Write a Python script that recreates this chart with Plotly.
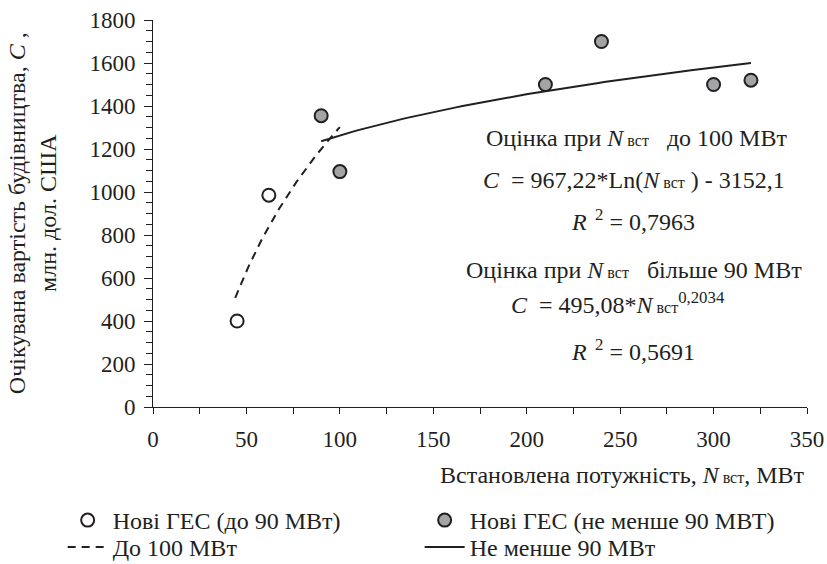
import numpy as np
import plotly.graph_objects as go

# ---- data ----
small_x = [45, 62]            # Нові ГЕС (до 90 МВт)
small_y = [400, 985]
large_x = [90, 100, 210, 240, 300, 320]   # Нові ГЕС (не менше 90 МВт)
large_y = [1355, 1095, 1500, 1700, 1500, 1520]

# trendline coefficients shown on the chart
log_a, log_b = 967.22, -3152.1       # C = a*Ln(N) + b, for N up to 100
pow_a, pow_b = 495.08, 0.2034        # C = a*N^b, for N above 90
log_range = [44, 100]
pow_range = [90, 320]

x_ticks = [0, 50, 100, 150, 200, 250, 300, 350]
y_ticks = [0, 200, 400, 600, 800, 1000, 1200, 1400, 1600, 1800]

FONT = "Liberation Serif"
INK = "#231f20"

log_x = np.linspace(log_range[0], log_range[1], 60)
log_y = log_a * np.log(log_x) + log_b
pow_x = np.linspace(pow_range[0], pow_range[1], 80)
pow_y = pow_a * pow_x ** pow_b

fig = go.Figure()
fig.add_trace(go.Scatter(
    x=small_x, y=small_y, mode="markers", name="Нові ГЕС (до 90 МВт)",
    legend="legend",
    marker=dict(symbol="circle", size=13, color="white",
                line=dict(color=INK, width=2))))
fig.add_trace(go.Scatter(
    x=large_x, y=large_y, mode="markers", name="Нові ГЕС (не менше 90 МВТ)",
    legend="legend",
    marker=dict(symbol="circle", size=13, color="#a3a4a6",
                line=dict(color=INK, width=2))))
fig.add_trace(go.Scatter(
    x=log_x, y=log_y, mode="lines", name="До 100 МВт", legend="legend2",
    line=dict(color=INK, width=2, dash="8px,6px")))
fig.add_trace(go.Scatter(
    x=pow_x, y=pow_y, mode="lines", name="Не менше 90 МВт", legend="legend2",
    line=dict(color=INK, width=2)))

sub = "<span style='font-size:16px'>\u00a0вст</span>"
lines = [
    (258.5, 1253, f"Оцінка при <i>N</i>{sub}\u00a0\u00a0\u00a0до 100 МВт"),
    (257.5, 1057, f"<i>C</i> \u00a0= 967,22*Ln(<i>N</i>{sub}\u00a0) - 3152,1"),
    (257.0, 871, "<i>R</i><sup>\u00a0\u00a02</sup>\u00a0= 0,7963"),
    (257.5, 638, f"Оцінка при <i>N</i>{sub}\u00a0\u00a0\u00a0більше 90 МВт"),
    (249.0, 484, f"<i>C</i> \u00a0= 495,08*<i>N</i>{sub}<sup>0,2034</sup>"),
    (257.0, 265, "<i>R</i><sup>\u00a0\u00a02</sup>\u00a0= 0,5691"),
]
annotations = []
for xv, yv, txt in lines:
    annotations.append(dict(x=xv, y=yv, xref="x", yref="y", text=txt,
                            showarrow=False, xanchor="center", yanchor="middle",
                            font=dict(family=FONT, size=24, color=INK)))

PX0, PW = 153.3, 653.7   # plot-area left edge and width (pixels)
PY0, PH = 407.0, 387.0   # plot-area bottom edge and height

# axis titles
annotations.append(dict(
    x=(33 - PX0) / PW, y=0.5, xref="paper", yref="paper", textangle=-90,
    text="Очікувана вартість будівництва, <i>C</i> ,<br>млн. дол. США",
    showarrow=False, xanchor="center", yanchor="middle",
    font=dict(family=FONT, size=24, color=INK)))
annotations.append(dict(
    x=1.0, y=(PY0 - 475) / PH, xref="paper", yref="paper",
    text=f"Встановлена потужність, <i>N</i>{sub}, МВт",
    showarrow=False, xanchor="right", yanchor="middle",
    font=dict(family=FONT, size=24, color=INK)))

axis_common = dict(
    showline=True, linecolor=INK, linewidth=1, showgrid=False, zeroline=False,
    ticks="outside", tickcolor=INK, tickwidth=1, automargin=False,
    tickfont=dict(family=FONT, size=23, color=INK),
)

legend_common = dict(orientation="h", xanchor="left", yanchor="top",
                     entrywidth=302, itemwidth=40,
                     font=dict(family=FONT, size=24, color=INK),
                     bgcolor="rgba(0,0,0,0)", traceorder="normal")

fig.update_layout(
    width=827, height=564,
    margin=dict(l=153, r=20, t=20, b=157, autoexpand=False),
    paper_bgcolor="white", plot_bgcolor="white",
    font=dict(family=FONT, size=23, color=INK),
    xaxis=dict(range=[0, 350], tickvals=x_ticks, ticklen=6,
               ticklabelstandoff=5,
               minor=dict(dtick=25, tick0=0, ticks="outside", ticklen=6,
                          tickcolor=INK, showgrid=False),
               **axis_common),
    yaxis=dict(range=[0, 1800], tickvals=y_ticks, ticklen=8,
               ticklabelstandoff=4,
               minor=dict(dtick=50, tick0=0, ticks="outside", ticklen=6,
                          tickcolor=INK, showgrid=False),
               **axis_common),
    showlegend=True,
    legend=dict(x=(63 - PX0) / PW, y=(PY0 - 498) / PH, **legend_common),
    legend2=dict(x=(63 - PX0) / PW, y=(PY0 - 525) / PH, **legend_common),
    annotations=annotations,
)

# remove the browser's default 8px page margin so the figure fills the window
fig.write_html(
    "out.html",
    config={"displayModeBar": False},
    post_script="document.body.style.margin='0';"
                "document.body.style.overflow='hidden';",
)
